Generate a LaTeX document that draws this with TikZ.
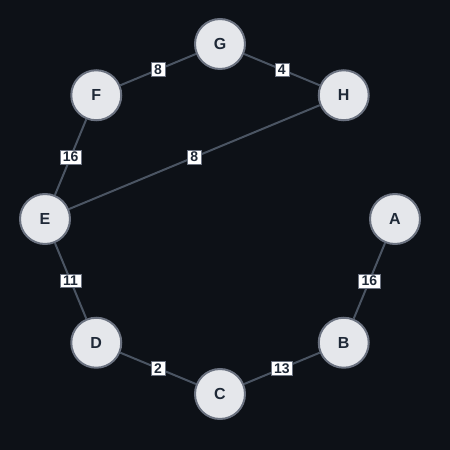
\documentclass[tikz,border=0pt]{standalone}
\usepackage{fontspec}
\setmainfont{Liberation Sans}
\definecolor{bgdark}{HTML}{0D1117}
\definecolor{vfill}{HTML}{E5E7EB}
\definecolor{vborder}{HTML}{6B7280}
\definecolor{vtext}{HTML}{1F2937}
\definecolor{ecol}{HTML}{4B5563}
\begin{document}
\begin{tikzpicture}[x=1pt,y=1pt,
  vert/.style={circle,draw=vborder,line width=2pt,fill=vfill,minimum size=50pt,inner sep=0pt,text=vtext,font=\bfseries\fontsize{16}{16}\selectfont},
  wlab/.style={fill=white,draw=vborder,line width=0.4pt,inner xsep=3pt,inner ysep=2pt,text=vtext,font=\bfseries\fontsize{14}{14}\selectfont},
  edge/.style={draw=ecol,line width=2pt}]
  \fill[bgdark] (0,0) rectangle (450,450);
  \useasboundingbox (0,0) rectangle (450,450);
  % vertices on a ring
  \foreach \n/\a in {A/0,B/-45,C/-90,D/-135,E/180,F/135,G/90,H/45}
    \node[vert] (\n) at ([shift={(\a:175)}]220,231) {\n};
  % weighted edges
  \foreach \u/\v/\w in {G/F/8,G/H/4,F/E/16,H/E/8,E/D/11,D/C/2,C/B/13,B/A/16}
    \draw[edge] (\u) -- node[wlab] {\w} (\v);
\end{tikzpicture}
\end{document}
